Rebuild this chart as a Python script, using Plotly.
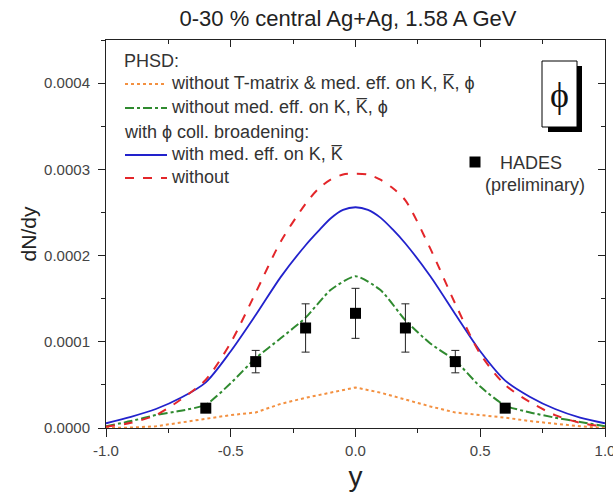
import plotly.graph_objects as go

# ---- data ----
y_grid = [-1.0, -0.9, -0.8, -0.7, -0.6, -0.5, -0.4, -0.3, -0.2, -0.1, 0.0,
          0.1, 0.2, 0.3, 0.4, 0.5, 0.6, 0.7, 0.8, 0.9, 1.0]
# values in units of 1e-4
orange_tmatrix = [0.0, 0.005, 0.02, 0.065, 0.11, 0.15, 0.18, 0.28, 0.35, 0.41, 0.47,
                  0.41, 0.33, 0.25, 0.18, 0.15, 0.12, 0.08, 0.05, 0.02, 0.0]
green_nomed = [0.02, 0.08, 0.15, 0.20, 0.27, 0.52, 0.81, 1.04, 1.28, 1.60, 1.76,
               1.60, 1.25, 0.98, 0.78, 0.48, 0.26, 0.18, 0.12, 0.07, 0.02]

y_fine = [-1.0, -0.9, -0.8, -0.7, -0.6, -0.5, -0.4, -0.3, -0.2, -0.15, -0.1, -0.05, 0.0,
          0.05, 0.1, 0.15, 0.2, 0.3, 0.4, 0.5, 0.6, 0.7, 0.8, 0.9, 1.0]
blue_med = [0.055, 0.13, 0.22, 0.35, 0.53, 0.89, 1.31, 1.75, 2.12, 2.28, 2.43, 2.53, 2.56,
            2.53, 2.44, 2.30, 2.14, 1.76, 1.32, 0.89, 0.55, 0.36, 0.22, 0.12, 0.055]
red_without = [0.015, 0.06, 0.15, 0.33, 0.56, 0.99, 1.57, 2.16, 2.60, 2.77, 2.88, 2.94, 2.95,
               2.94, 2.88, 2.78, 2.64, 2.08, 1.44, 0.86, 0.50, 0.30, 0.15, 0.06, 0.015]

hades_y = [-0.6, -0.4, -0.2, 0.0, 0.2, 0.4, 0.6]
hades_val = [0.23, 0.77, 1.16, 1.33, 1.16, 0.77, 0.23]
hades_err = [0.0, 0.13, 0.28, 0.29, 0.28, 0.13, 0.0]

x_ticks = [-1.0, -0.5, 0.0, 0.5, 1.0]
x_tick_labels = ["-1.0", "-0.5", "0.0", "0.5", "1.0"]
y_ticks = [0.0, 0.0001, 0.0002, 0.0003, 0.0004]
y_tick_labels = ["0.0000", "0.0001", "0.0002", "0.0003", "0.0004"]

S = 1e-4
FONT = "Arial, Liberation Sans, sans-serif"

C_OR = "#f39040"
C_GR = "#2f8a2f"
C_BL = "#2222cc"
C_RD = "#e3262a"

fig = go.Figure()
fig.add_trace(go.Scatter(x=y_grid, y=[v * S for v in orange_tmatrix], mode="lines",
                         line=dict(color=C_OR, width=2, dash="dot"), showlegend=False))
fig.add_trace(go.Scatter(x=y_grid, y=[v * S for v in green_nomed], mode="lines",
                         line=dict(color=C_GR, width=2, dash="dashdot", shape="spline", smoothing=0.6),
                         showlegend=False))
fig.add_trace(go.Scatter(x=y_fine, y=[v * S for v in blue_med], mode="lines",
                         line=dict(color=C_BL, width=1.8, shape="spline", smoothing=0.8),
                         showlegend=False))
fig.add_trace(go.Scatter(x=y_fine, y=[v * S for v in red_without], mode="lines",
                         line=dict(color=C_RD, width=2, dash="dash", shape="spline", smoothing=0.8),
                         showlegend=False))
fig.add_trace(go.Scatter(x=hades_y, y=[v * S for v in hades_val], mode="markers",
                         marker=dict(symbol="square", size=11, color="black"),
                         error_y=dict(type="data", array=[e * S for e in hades_err],
                                      color="#222", thickness=1, width=4),
                         showlegend=False))

# ---- axes ----
axis_common = dict(showline=True, linecolor="#222", linewidth=1, showgrid=False,
                   zeroline=False, ticks="outside", tickcolor="#222", automargin=False,
                   tickfont=dict(family=FONT, size=15, color="#444"))
fig.update_xaxes(range=[-1, 1], tickvals=x_ticks, ticktext=x_tick_labels, ticklen=8,
                 ticklabelstandoff=1, ticklabeloverflow="allow",
                 minor=dict(dtick=0.25, tick0=0, ticks="outside", ticklen=4, tickcolor="#222"),
                 title=dict(text="y", font=dict(family=FONT, size=28, color="#222"), standoff=8),
                 **axis_common)
fig.update_yaxes(range=[0, 0.00045], tickvals=y_ticks, ticktext=y_tick_labels, ticklen=7,
                 ticklabelstandoff=5,
                 minor=dict(dtick=0.00005, tick0=0, ticks="outside", ticklen=4, tickcolor="#222"),
                 title=dict(text="dN/dy", font=dict(family=FONT, size=21, color="#222"), standoff=1),
                 **axis_common)
fig.update_layout(
    xaxis2=dict(overlaying="x", side="top", range=[-1, 1], showline=True, automargin=False,
                linecolor="#222", ticks="inside", ticklen=7, tickvals=x_ticks, showticklabels=False,
                minor=dict(dtick=0.25, tick0=0, ticks="inside", ticklen=4, tickcolor="#222"),
                tickcolor="#222", showgrid=False, zeroline=False),
    yaxis2=dict(overlaying="y", side="right", range=[0, 0.00045], showline=True, automargin=False,
                linecolor="#222", ticks="inside", ticklen=7, tickvals=y_ticks, showticklabels=False,
                minor=dict(dtick=0.00005, tick0=0, ticks="inside", ticklen=4, tickcolor="#222"),
                tickcolor="#222", showgrid=False, zeroline=False),
)
# invisible trace to activate the mirror axes
fig.add_trace(go.Scatter(x=[-1, 1], y=[0, 0], xaxis="x2", yaxis="y2", mode="lines",
                         line=dict(width=0), hoverinfo="skip", showlegend=False, opacity=0))

# ---- manual legend ----
L, R, T, B = 106, 605, 40, 428
def px(x):
    return (x - L) / (R - L)
def py(y):
    return (B - y) / (B - T)

shapes = []
ann = []
tfont = dict(family=FONT, size=18, color="#333")
def add_text(x, y, txt, anchor="left", font=tfont):
    ann.append(dict(x=px(x), y=py(y), xref="paper", yref="paper", text=txt, showarrow=False,
                    xanchor=anchor, yanchor="middle", font=font, borderpad=0))

add_text(123, 61, "PHSD:")
legend_rows = [
    (84, C_OR, "dot", "without T-matrix &amp; med. eff. on K, K\u0305, \u03d5"),
    (108, C_GR, "dashdot", "without med. eff. on K, K\u0305, \u03d5"),
    (155, C_BL, "solid", "with med. eff. on K, K\u0305"),
    (178, C_RD, "dash", "without"),
]
for yy, col, dash, txt in legend_rows:
    shapes.append(dict(type="line", xref="paper", yref="paper", x0=px(125), x1=px(167),
                       y0=py(yy), y1=py(yy), line=dict(color=col, width=2, dash=dash)))
    add_text(170, yy - 1, txt)
add_text(123, 132, "with \u03d5 coll. broadening:")

# HADES legend
fig.add_trace(go.Scatter(x=[(475 - L) / (R - L) * 2 - 1], y=[(B - 162) / (B - T) * 0.00045],
                         mode="markers", marker=dict(symbol="square", size=11, color="black"),
                         showlegend=False, hoverinfo="skip"))
add_text(531, 163, "HADES", "center")
add_text(535, 185, "(preliminary)", "center")

# phi box with shadow
shapes.append(dict(type="rect", xref="paper", yref="paper", x0=px(548), x1=px(582),
                   y0=py(132), y1=py(66), fillcolor="black", line=dict(width=0)))
shapes.append(dict(type="rect", xref="paper", yref="paper", x0=px(542), x1=px(577),
                   y0=py(127), y1=py(61), fillcolor="white", line=dict(color="black", width=1)))
add_text(559.5, 95, "\u03d5", "center", dict(family="Liberation Serif, serif", size=36, color="#111"))

fig.update_layout(
    width=613, height=498,
    margin=dict(l=L, r=613 - R, t=T, b=498 - B),
    paper_bgcolor="white", plot_bgcolor="white",
    title=dict(text="0-30 % central Ag+Ag, 1.58 A GeV", x=348 / 613, xref="container",
               xanchor="center", y=1 - 18 / 498, yref="container", yanchor="middle",
               font=dict(family=FONT, size=22, color="#222")),
    shapes=shapes, annotations=ann, showlegend=False,
)

fig.write_html("out.html", config={"displayModeBar": False},
               post_script="document.body.style.margin='0';")
